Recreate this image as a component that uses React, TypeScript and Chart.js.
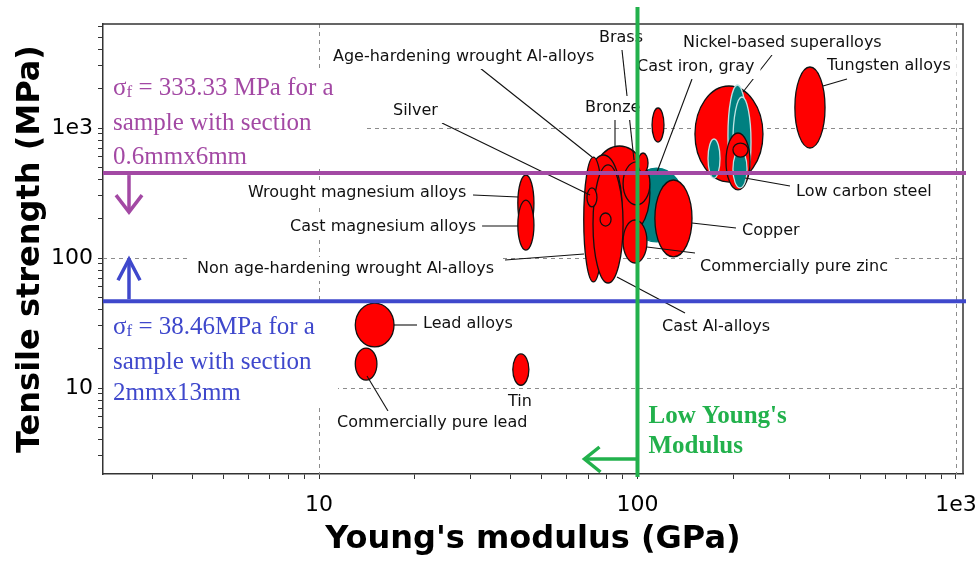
import React, { useEffect, useRef } from 'react';
import { Chart, registerables } from 'chart.js';

Chart.register(...registerables);

// ---------------- data ----------------
// Material property bubbles: Young's modulus range (GPa) and tensile strength range (MPa)
const materials = [
  'Steel group (unlabelled)', 'Teal unlabelled 1', 'Nickel-based superalloys', 'Teal unlabelled 2',
  'Low carbon steel', 'Teal unlabelled 3', 'Red unlabelled 1', 'Tungsten alloys',
  'Cast iron, gray', 'Bronze', 'Age-hardening wrought Al-alloys', 'Non age-hardening wrought Al-alloys',
  'Cast Al-alloys', 'Silver', 'Red unlabelled 2', 'Brass', 'Red unlabelled 3',
  'Commercially pure zinc', 'Copper', 'Red unlabelled 4', 'Wrought magnesium alloys',
  'Cast magnesium alloys', 'Lead alloys', 'Commercially pure lead', 'Tin',
];
const modulusLow = [151.5, 166.5, 192.3, 199.4, 189.6, 199.4, 199.4, 312, 93.4, 70.5, 68.4, 67.8, 72.5, 69.4, 76.3, 90.1, 100.4, 90.1, 113.4, 111.1, 42.1, 42.1, 13.0, 13.0, 40.6];
const modulusHigh = [247.7, 181.6, 220.8, 227.2, 225.6, 220.8, 222.3, 388, 141, 109.4, 89.4, 78.0, 90.1, 74.6, 82.6, 109.4, 107.9, 107.1, 148.3, 121.1, 47.3, 47.3, 17.2, 15.2, 45.6];
const strengthLow = [384, 412, 352, 352, 334, 346, 598, 702, 133, 138, 96.5, 65.5, 64.2, 247, 176, 256, 451, 91.5, 102, 780, 161, 115, 20.7, 11.5, 10.5];
const strengthHigh = [2104, 823, 2142, 1732, 915, 677, 766, 2946, 492, 727, 620, 598, 520, 346, 222, 548, 642, 196, 398, 1425, 435, 279, 45, 20.3, 18.3];
// colour family of each bubble: 'A' = red, 'B' = teal
const family = ['A', 'B', 'B', 'B', 'A', 'B', 'A', 'A', 'B', 'A', 'A', 'A', 'A', 'A', 'A', 'A', 'A', 'A', 'A', 'A', 'A', 'A', 'A', 'A', 'A'];

// reference lines
const upperStrengthLine = 450; // MPa
const lowerStrengthLine = 46.5; // MPa
const modulusLimitLine = 100; // GPa

// axes
const X_MIN = 2.098;
const X_MAX = 1052;
const Y_MIN = 2.18;
const Y_MAX = 6310;
const xTickValues = [3, 4, 5, 6, 7, 8, 9, 10, 20, 30, 40, 50, 60, 70, 80, 90, 100, 200, 300, 400, 500, 600, 700, 800, 900, 1000];
const yTickValues = [3, 4, 5, 6, 7, 8, 9, 10, 20, 30, 40, 50, 60, 70, 80, 90, 100, 200, 300, 400, 500, 600, 700, 800, 900, 1000, 2000, 3000, 4000, 5000, 6000];
const majorTickLabels: Record<number, string> = { 10: '10', 100: '100', 1000: '1e3' };
const gridValues = [10, 100, 1000];
const xTitle = "Young's modulus (GPa)";
const yTitle = 'Tensile strength (MPa)';

// annotation texts
const upperNote = ['= 333.33 MPa for a', 'sample with section', '0.6mmx6mm'];
const lowerNote = ['= 38.46MPa for a', 'sample with section', '2mmx13mm'];
const modulusNote = ["Low Young's", 'Modulus'];

// ---------------- layout of the labels (pixels) ----------------
const labelLayout = [
  { text: 'Brass', x: 599, y: 38 },
  { text: 'Age-hardening wrought Al-alloys', x: 333, y: 57 },
  { text: 'Cast iron, gray', x: 637, y: 67 },
  { text: 'Nickel-based superalloys', x: 683, y: 43 },
  { text: 'Tungsten alloys', x: 827, y: 66 },
  { text: 'Silver', x: 393, y: 111 },
  { text: 'Bronze', x: 585, y: 108 },
  { text: 'Low carbon steel', x: 796, y: 192 },
  { text: 'Wrought magnesium alloys', x: 248, y: 193 },
  { text: 'Cast magnesium alloys', x: 290, y: 227 },
  { text: 'Copper', x: 742, y: 231 },
  { text: 'Commercially pure zinc', x: 700, y: 267 },
  { text: 'Non age-hardening wrought Al-alloys', x: 197, y: 269 },
  { text: 'Cast Al-alloys', x: 662, y: 327 },
  { text: 'Lead alloys', x: 423, y: 324 },
  { text: 'Tin', x: 508, y: 402 },
  { text: 'Commercially pure lead', x: 337, y: 423 },
];
const leaderLayout = [
  [622, 50, 634, 160],
  [480, 68, 592, 157],
  [442, 123, 590, 195],
  [615, 120, 615, 146],
  [692, 79, 657, 172],
  [772, 55, 743, 92],
  [847, 79, 823, 86],
  [790, 186, 745, 178],
  [473, 195, 518, 197],
  [477, 226, 518, 226],
  [692, 223, 736, 228],
  [647, 247, 695, 253],
  [505, 260, 584, 254],
  [617, 277, 685, 313],
  [394, 325, 417, 325],
  [367, 376, 388, 411],
];

const RED = '#ff0000';
const TEAL = '#008080';
const PURPLE = '#a349a4';
const INDIGO = '#3f48cc';
const GREEN = '#22b14c';
const LABEL_FONT = '16px "DejaVu Sans"';
const NOTE_FONT = '25px "Liberation Serif"';

function drawNote(ctx: CanvasRenderingContext2D, lines: string[], x: number, ys: number[], color: string, withSigma: boolean, bold = false) {
  ctx.fillStyle = color;
  ctx.textAlign = 'left';
  ctx.textBaseline = 'middle';
  const font = (bold ? 'bold ' : '') + NOTE_FONT;
  lines.forEach((ln, i) => {
    ctx.font = font;
    if (i === 0 && withSigma) {
      let cx = x;
      ctx.fillText('σ', cx, ys[i]);
      cx += ctx.measureText('σ').width;
      ctx.font = '17px "Liberation Serif"';
      ctx.fillText('f', cx, ys[i] + 5);
      cx += ctx.measureText('f').width;
      ctx.font = font;
      ctx.fillText(' ' + ln, cx, ys[i]);
    } else {
      ctx.fillText(ln, x, ys[i]);
    }
  });
}

const overlayPlugin = {
  id: 'overlay',
  afterDatasetsDraw(chart: any) {
    const { ctx, chartArea: a } = chart;
    const xs = chart.scales.x;
    const ys = chart.scales.y;
    ctx.save();

    // dashed grid at decades
    ctx.strokeStyle = '#8c8c8c';
    ctx.lineWidth = 1;
    ctx.setLineDash([4, 4]);
    for (const v of gridValues) {
      const px = Math.round(xs.getPixelForValue(v)) + 0.5;
      ctx.beginPath(); ctx.moveTo(px, a.top); ctx.lineTo(px, a.bottom); ctx.stroke();
      const py = Math.round(ys.getPixelForValue(v)) + 0.5;
      ctx.beginPath(); ctx.moveTo(a.left, py); ctx.lineTo(a.right, py); ctx.stroke();
    }
    ctx.setLineDash([]);

    // bubbles
    for (let i = 0; i < materials.length; i++) {
      const x1 = xs.getPixelForValue(modulusLow[i]);
      const x2 = xs.getPixelForValue(modulusHigh[i]);
      const y1 = ys.getPixelForValue(strengthHigh[i]);
      const y2 = ys.getPixelForValue(strengthLow[i]);
      ctx.beginPath();
      ctx.ellipse((x1 + x2) / 2, (y1 + y2) / 2, Math.abs(x2 - x1) / 2, Math.abs(y2 - y1) / 2, 0, 0, Math.PI * 2);
      const teal = family[i] === 'B';
      ctx.fillStyle = teal ? TEAL : RED;
      ctx.fill();
      ctx.lineWidth = 1.3;
      ctx.strokeStyle = teal ? (i === 8 ? TEAL : '#bfe3e3') : '#111';
      ctx.stroke();
    }

    // leader lines
    ctx.strokeStyle = '#111';
    ctx.lineWidth = 1.1;
    for (const [x1, y1, x2, y2] of leaderLayout) {
      ctx.beginPath(); ctx.moveTo(x1, y1); ctx.lineTo(x2, y2); ctx.stroke();
    }

    // labels with white backgrounds
    ctx.font = LABEL_FONT;
    ctx.textAlign = 'left';
    ctx.textBaseline = 'middle';
    for (const l of labelLayout) {
      const w = ctx.measureText(l.text).width;
      ctx.fillStyle = '#fff';
      ctx.fillRect(l.x - 6, l.y - 12, w + 12, 24);
      ctx.fillStyle = '#111';
      ctx.fillText(l.text, l.x, l.y);
    }

    // note backgrounds
    ctx.fillStyle = '#fff';
    ctx.fillRect(a.left + 1, 68, 262, 101);
    ctx.fillRect(a.left + 1, 303, 234, 101);

    // plot frame top/right
    ctx.strokeStyle = '#333';
    ctx.lineWidth = 1.5;
    ctx.beginPath();
    ctx.moveTo(a.left, a.top); ctx.lineTo(a.right, a.top); ctx.lineTo(a.right, a.bottom);
    ctx.stroke();

    // horizontal strength lines
    const yUp = ys.getPixelForValue(upperStrengthLine);
    const yLo = ys.getPixelForValue(lowerStrengthLine);
    ctx.lineWidth = 4;
    ctx.strokeStyle = PURPLE;
    ctx.beginPath(); ctx.moveTo(a.left, yUp); ctx.lineTo(a.right + 3, yUp); ctx.stroke();
    ctx.strokeStyle = INDIGO;
    ctx.beginPath(); ctx.moveTo(a.left, yLo); ctx.lineTo(a.right + 3, yLo); ctx.stroke();

    // arrows
    const ax = a.left + 26;
    ctx.lineWidth = 3.5;
    ctx.lineCap = 'butt';
    ctx.strokeStyle = PURPLE;
    ctx.beginPath(); ctx.moveTo(ax, yUp + 2); ctx.lineTo(ax, yUp + 39); ctx.stroke();
    ctx.beginPath(); ctx.moveTo(ax - 13, yUp + 22); ctx.lineTo(ax, yUp + 39); ctx.lineTo(ax + 13, yUp + 22); ctx.stroke();
    ctx.strokeStyle = INDIGO;
    ctx.beginPath(); ctx.moveTo(ax, yLo - 2); ctx.lineTo(ax, yLo - 42); ctx.stroke();
    ctx.beginPath(); ctx.moveTo(ax - 11, yLo - 21); ctx.lineTo(ax, yLo - 42); ctx.lineTo(ax + 11, yLo - 21); ctx.stroke();

    // notes
    drawNote(ctx, upperNote, a.left + 10, [88, 123, 157], PURPLE, true);
    drawNote(ctx, lowerNote, a.left + 10, [327, 362, 393], INDIGO, true);

    // vertical modulus line
    const xg = xs.getPixelForValue(modulusLimitLine);
    ctx.strokeStyle = GREEN;
    ctx.lineWidth = 4;
    ctx.beginPath(); ctx.moveTo(xg, a.top - 17); ctx.lineTo(xg, a.bottom + 3); ctx.stroke();
    ctx.lineWidth = 3.5;
    ctx.beginPath(); ctx.moveTo(xg, a.bottom - 15); ctx.lineTo(xg - 53, a.bottom - 15); ctx.stroke();
    ctx.beginPath(); ctx.moveTo(xg - 38, a.bottom - 27); ctx.lineTo(xg - 53, a.bottom - 15); ctx.lineTo(xg - 37, a.bottom - 2); ctx.stroke();
    drawNote(ctx, modulusNote, xg + 11, [417, 447], GREEN, false, true);

    // axis titles
    ctx.fillStyle = '#000';
    ctx.font = 'bold 32px "DejaVu Sans"';
    ctx.textAlign = 'center';
    ctx.textBaseline = 'middle';
    ctx.fillText(xTitle, (a.left + a.right) / 2, 540);
    ctx.save();
    ctx.translate(31, (a.top + a.bottom) / 2);
    ctx.rotate(-Math.PI / 2);
    ctx.fillText(yTitle, 0, 0);
    ctx.restore();

    ctx.restore();
  },
};

export default function App() {
  const ref = useRef<HTMLCanvasElement | null>(null);
  useEffect(() => {
    if (!ref.current) return;
    const centers = materials.map((_, i) => ({
      x: Math.sqrt(modulusLow[i] * modulusHigh[i]),
      y: Math.sqrt(strengthLow[i] * strengthHigh[i]),
    }));
    const tickFont = { family: '"DejaVu Sans"', size: 22 };
    const chart = new Chart(ref.current, {
      type: 'scatter',
      data: { datasets: [{ data: centers, pointRadius: 0, pointHoverRadius: 0 }] },
      options: {
        responsive: false,
        animation: false,
        events: [],
        layout: { padding: { top: 24, right: 16, left: 0, bottom: 0 } },
        plugins: { legend: { display: false }, tooltip: { enabled: false } },
        scales: {
          x: {
            type: 'logarithmic',
            min: X_MIN,
            max: X_MAX,
            bounds: 'data',
            afterFit: (s: any) => { s.height = 87; s.paddingLeft = 0; s.paddingRight = 0; },
            afterBuildTicks: (s: any) => { s.ticks = xTickValues.map((v) => ({ value: v, major: !!majorTickLabels[v] })); },
            ticks: {
              autoSkip: false,
              maxRotation: 0,
              minRotation: 0,
              padding: 13,
              color: '#000',
              font: tickFont,
              callback: (v: any) => majorTickLabels[Number(v)] || '',
            },
            grid: { drawOnChartArea: false, tickLength: 5, color: '#333', tickColor: '#333' },
            border: { color: '#333', width: 1.5 },
          },
          y: {
            type: 'logarithmic',
            min: Y_MIN,
            max: Y_MAX,
            bounds: 'data',
            afterFit: (s: any) => { s.width = 103; s.paddingTop = 0; s.paddingBottom = 0; },
            afterBuildTicks: (s: any) => { s.ticks = yTickValues.map((v) => ({ value: v, major: !!majorTickLabels[v] })); },
            ticks: {
              autoSkip: false,
              padding: 5,
              color: '#000',
              font: tickFont,
              callback: (v: any) => majorTickLabels[Number(v)] || '',
            },
            grid: { drawOnChartArea: false, tickLength: 5, color: '#333', tickColor: '#333' },
            border: { color: '#333', width: 1.5 },
          },
        },
      } as any,
      plugins: [overlayPlugin],
    });
    return () => chart.destroy();
  }, []);
  return (
    <div style={{ position: 'fixed', left: 0, top: 0, width: 979, height: 561, background: '#fff' }}>
      <canvas ref={ref} width={979} height={561} style={{ display: 'block', width: 979, height: 561 }} />
    </div>
  );
}
